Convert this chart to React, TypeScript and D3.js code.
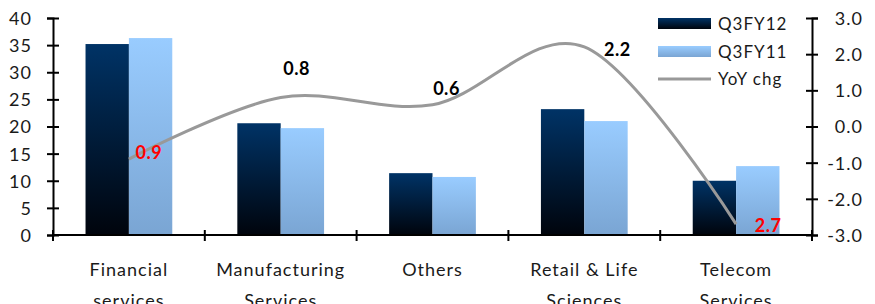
import React, { useEffect, useRef } from "react";
import * as d3 from "d3";

const categories = ["Financial services", "Manufacturing Services", "Others", "Retail & Life Sciences", "Telecom Services"];
const categoryLines = [["Financial", "services"], ["Manufacturing", "Services"], ["Others"], ["Retail & Life", "Sciences"], ["Telecom", "Services"]];
const seriesNames = ["Q3FY12", "Q3FY11"];
const q3fy12 = [35.2, 20.6, 11.4, 23.2, 10.0];
const q3fy11 = [36.3, 19.7, 10.7, 21.0, 12.7];
const yoyChg = [-0.9, 0.8, 0.6, 2.2, -2.7];
const leftTicks = [0, 5, 10, 15, 20, 25, 30, 35, 40];
const rightTicks = [-3, -2, -1, 0, 1, 2, 3];

// hand placed data label nudges (dx, dy from the point)
const labelNudge = [[20, -7], [16, -29], [14, -16], [33, 3], [32, 1]];

const W = 875;
const H = 304;
const margin = { top: 18, right: 63, bottom: 69, left: 53 };
const font = "Lato, 'Open Sans', sans-serif";

export default function App() {
  const ref = useRef<SVGSVGElement>(null);

  useEffect(() => {
    const svg = d3.select(ref.current);
    svg.selectAll("*").remove();

    const x0 = margin.left;
    const x1 = W - margin.right;
    const yBottom = H - margin.bottom;

    const x = d3.scaleBand().domain(categories).range([x0, x1]).padding(0);
    const xInner = d3.scaleBand().domain(seriesNames).range([0, x.bandwidth()]).paddingInner(0).paddingOuter(0.75);
    const yL = d3.scaleLinear().domain([0, 40]).range([yBottom, margin.top]);
    const yR = d3.scaleLinear().domain([-3, 3]).range([yBottom, margin.top]);

    const defs = svg.append("defs");
    const grads = [
      { id: "gDark", top: "#003366", bottom: "#00040c" },
      { id: "gLight", top: "#99ccff", bottom: "#7aa5d3" },
    ];
    grads.forEach((g) => {
      const lg = defs.append("linearGradient").attr("id", g.id).attr("x1", 0).attr("y1", 0).attr("x2", 0).attr("y2", 1);
      lg.append("stop").attr("offset", "0%").attr("stop-color", g.top);
      lg.append("stop").attr("offset", "100%").attr("stop-color", g.bottom);
    });

    // bars
    const seriesVals = [q3fy12, q3fy11];
    seriesVals.forEach((vals, si) => {
      svg.append("g")
        .selectAll("rect")
        .data(vals)
        .join("rect")
        .attr("x", (d, i) => x(categories[i])! + xInner(seriesNames[si])!)
        .attr("y", (d) => yL(d))
        .attr("width", xInner.bandwidth())
        .attr("height", (d) => yL(0) - yL(d))
        .attr("fill", `url(#${grads[si].id})`);
    });

    // left axis
    const gl = svg.append("g").attr("transform", `translate(${x0},0)`)
      .call(d3.axisLeft(yL).tickValues(leftTicks).tickSizeOuter(0).tickSize(6).tickPadding(15));
    gl.select(".domain").attr("stroke", "#000").attr("stroke-width", 2);
    gl.selectAll(".tick line").attr("x1", -6).attr("x2", 6).attr("stroke", "#000").attr("stroke-width", 2);
    gl.selectAll(".tick text").attr("font-family", font).attr("font-size", 18).attr("fill", "#1a1a1a")
      .attr("letter-spacing", 1).attr("dy", "0.36em");

    // right axis
    const gr = svg.append("g").attr("transform", `translate(${x1},0)`)
      .call(d3.axisRight(yR).tickValues(rightTicks).tickFormat(d3.format(".1f")).tickSizeOuter(0).tickSize(6));
    gr.select(".domain").attr("stroke", "#000").attr("stroke-width", 2);
    gr.selectAll(".tick line").attr("x1", -6).attr("x2", 6).attr("stroke", "#000").attr("stroke-width", 2);
    gr.selectAll(".tick text").attr("font-family", font).attr("font-size", 18).attr("fill", "#1a1a1a")
      .attr("letter-spacing", 1).attr("text-anchor", "end").attr("x", 51).attr("dy", "0.36em")
      .text((d: any) => d3.format(".1f")(d).replace("\u2212", "-"));

    // bottom axis
    const gb = svg.append("g").attr("transform", `translate(0,${yBottom})`);
    gb.append("line").attr("x1", x0).attr("x2", x1).attr("stroke", "#000").attr("stroke-width", 2);
    const bounds = categories.map((c) => x(c)!).concat([x1]);
    gb.selectAll("line.tk").data(bounds).join("line").attr("class", "tk")
      .attr("x1", (d) => d).attr("x2", (d) => d).attr("y1", -5).attr("y2", 6)
      .attr("stroke", "#000").attr("stroke-width", 2);
    const lbl = gb.selectAll("text").data(categoryLines).join("text")
      .attr("x", (d, i) => x(categories[i])! + x.bandwidth() / 2)
      .attr("y", 41)
      .attr("text-anchor", "middle")
      .attr("font-family", font).attr("font-size", 18).attr("letter-spacing", 1).attr("fill", "#1a1a1a");
    lbl.selectAll("tspan").data((d) => d).join("tspan")
      .attr("x", function () { return (this.parentNode as SVGTextElement).getAttribute("x"); })
      .attr("dy", (d, i) => (i === 0 ? 0 : 31))
      .text((d) => d);

    // YoY line
    const pts: [number, number][] = yoyChg.map((v, i) => [x(categories[i])! + x.bandwidth() / 2, yR(v)]);
    const line = d3.line().curve(d3.curveCardinal.tension(0));
    svg.append("path").attr("d", line(pts)).attr("fill", "none").attr("stroke", "#999999").attr("stroke-width", 3);

    svg.append("g").selectAll("text").data(yoyChg).join("text")
      .attr("x", (d, i) => pts[i][0] + labelNudge[i][0])
      .attr("y", (d, i) => pts[i][1] + labelNudge[i][1])
      .attr("dy", "0.36em")
      .attr("text-anchor", "middle")
      .attr("font-family", font).attr("font-size", 18).attr("font-weight", "bold").attr("letter-spacing", 0.5)
      .attr("fill", (d) => (d < 0 ? "#ff0000" : "#000"))
      .text((d) => Math.abs(d).toFixed(1));

    // legend
    const legend = svg.append("g").attr("transform", "translate(658,0)");
    const items = [
      { name: seriesNames[0], type: "rect", fill: "url(#gDark)", y: 24 },
      { name: seriesNames[1], type: "rect", fill: "url(#gLight)", y: 52 },
      { name: "YoY chg", type: "line", fill: "#999999", y: 79 },
    ];
    items.forEach((it) => {
      if (it.type === "rect") {
        legend.append("rect").attr("x", 0).attr("y", it.y - 6).attr("width", 53).attr("height", 11).attr("fill", it.fill);
      } else {
        legend.append("line").attr("x1", 0).attr("x2", 53).attr("y1", it.y).attr("y2", it.y)
          .attr("stroke", it.fill).attr("stroke-width", 3);
      }
      legend.append("text").attr("x", 60).attr("y", it.y).attr("dy", "0.36em")
        .attr("font-family", font).attr("font-size", 17).attr("letter-spacing", 1).attr("fill", "#1a1a1a")
        .text(it.name);
    });
  }, []);

  return (
    <svg ref={ref} width={W} height={H} style={{ position: "absolute", left: 0, top: 0, background: "#fff" }} />
  );
}
